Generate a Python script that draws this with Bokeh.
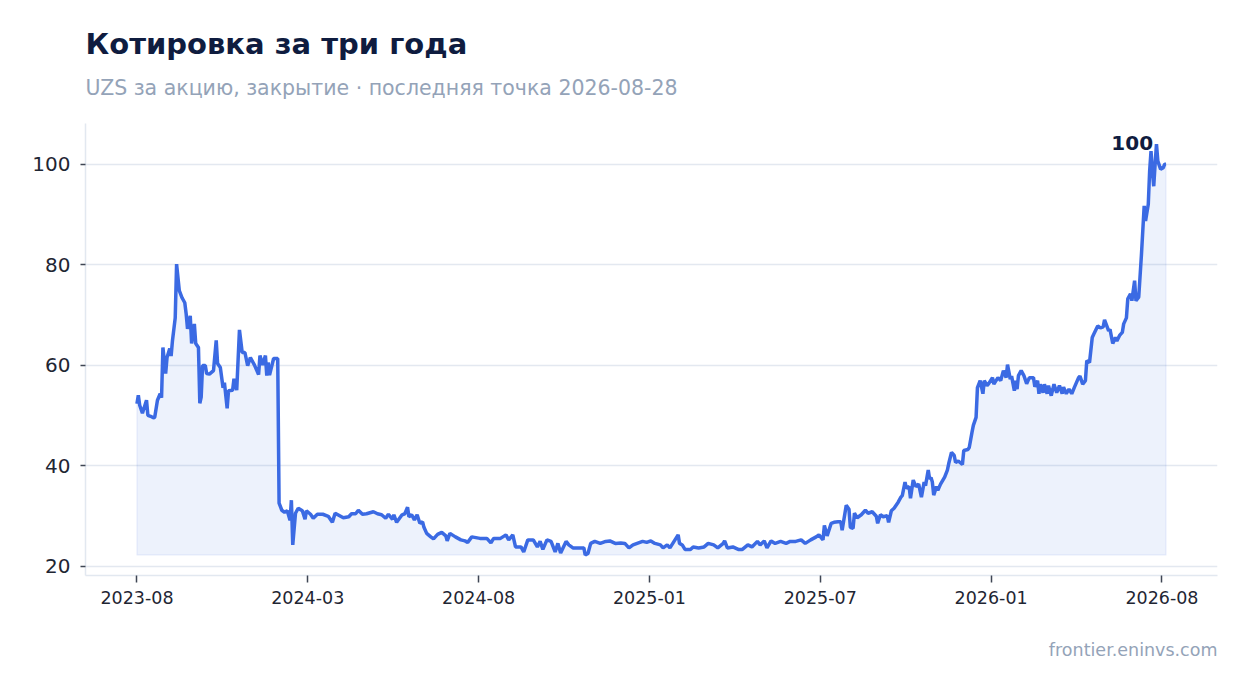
from bokeh.core.properties import value
from bokeh.embed import file_html
from bokeh.models import FixedTicker, Title
from bokeh.plotting import figure
from bokeh.resources import INLINE

# trading session number (0 = first session) and closing price, UZS
session = [
    0, 1, 2, 4, 7, 8, 10, 12, 13, 15,
    17, 18, 19, 21, 22, 24, 25, 26, 28, 29,
    31, 33, 35, 36, 37, 39, 40, 42, 43, 45,
    46, 47, 48, 50, 51, 53, 56, 58, 59, 61,
    63, 64, 66, 67, 70, 71, 73, 75, 77, 79,
    81, 83, 86, 89, 90, 92, 94, 95, 96, 97,
    100, 103, 104,
    106, 108, 110, 112, 113, 114, 116, 118, 121, 123,
    124, 127, 129, 132, 136, 140, 143, 145, 147, 151,
    155, 157, 160, 162, 165, 168, 173, 176, 179, 182,
    184, 187, 188, 190, 194, 196, 198, 199, 201, 203,
    205, 207, 209, 210, 212, 215, 217, 220, 223, 226,
    227, 229, 233, 237, 240, 242,
    245, 251, 256, 259, 261, 266, 270, 272, 275, 277,
    281, 283, 286, 290, 293, 295, 297, 300, 303, 306,
    308, 310, 314, 316, 319, 323, 327, 328, 330, 332,
    335, 339, 343, 346, 350, 354, 357, 360, 363, 366,
    370, 373, 376, 379, 383, 385, 388, 390, 393, 396,
    397, 399, 401, 405, 407, 411, 415, 418, 422, 425,
    429, 430, 432, 436, 440, 443, 447, 450, 454, 456,
    459, 461, 464, 467, 471, 475, 478, 482, 486, 489,
    493, 497, 499,
    502, 503, 505, 508, 510, 513, 515, 516, 519, 521,
    522, 524, 525, 527, 530, 533, 535, 538, 541, 542,
    544, 546, 549, 550, 552, 554, 557, 559, 560, 562,
    563, 565, 566, 568, 570, 572, 574, 576, 577, 579,
    580, 581, 582, 583, 585, 586, 588, 591, 593, 594,
    596, 598, 599, 601, 604, 605, 608, 609, 611, 612,
    614, 615, 617, 619, 620, 622, 623, 626, 627, 630,
    632, 634, 636, 637, 639, 640, 642, 643, 644, 645,
    647, 649, 651, 653, 656, 657, 659, 660, 661, 663,
    664, 666, 667, 669, 671, 673, 675, 677, 678, 680,
    682, 684, 686, 689, 690, 692, 694, 695, 697, 699,
    700, 703, 705, 707, 708, 711, 712, 714, 716, 717,
    719, 721, 722, 724, 725, 727, 728, 730, 731, 733,
    735, 737, 738, 740, 741, 742, 743, 744, 745, 746,
    747, 749, 751, 752, 753,
]
close = [
    52.3, 54, 52, 50.4, 53, 50, 49.8, 49.5, 49.6, 53,
    54.3, 53.5, 63.5, 58.3, 61.5, 63.3, 61.8, 64.9, 69.4, 80.1,
    74.8, 73.4, 72.4, 70.2, 67.2, 69.8, 64.3, 68.2, 64.3, 63.5,
    52.4, 53.6, 59.9, 59.9, 58.3, 58.2, 58.9, 64.9, 60.3, 59.5,
    55.5, 56.5, 51.4, 54.9, 55, 57.3, 55, 67, 62.5, 62.5,
    59.9, 61.5, 60, 58.1, 61.9, 60, 61.9, 57.9, 60.5, 58,
    61.3, 61.3, 32.5,
    31.1, 30.7, 31, 29.1, 33.1, 24.2, 30.5, 31.5, 31, 29.3,
    31, 30.3, 29.5, 30.3, 30.3, 29.9, 28.7, 30.5, 30.2, 29.6,
    29.8, 30.4, 30.4, 31.1, 30.3, 30.4, 30.8, 30.4, 30.2, 29.5,
    30.3, 29.3, 30.2, 28.7, 30.2, 30.4, 31.7, 29.8, 30.2, 29.2,
    30.2, 28.5, 28.8, 27.7, 26.5, 25.8, 25.4, 26.3, 26.7, 26,
    25, 26.5, 25.8, 25.2, 25, 24.7,
    25.8, 25.5, 25.5, 24.6, 25.5, 25.5, 26.2, 25.2, 26.2, 23.8,
    23.8, 22.8, 25.2, 25.2, 23.8, 24.9, 23.3, 25.2, 24.9, 22.8,
    24.5, 22.6, 24.9, 24.2, 23.6, 23.6, 23.6, 22.2, 22.5, 24.5,
    24.9, 24.5, 24.9, 25, 24.5, 24.6, 24.5, 23.6, 24.2, 24.5,
    24.9, 24.7, 25, 24.5, 24.2, 23.6, 24.2, 23.6, 24.9, 26.2,
    24.5, 24.2, 23.3, 23.3, 23.8, 23.6, 23.8, 24.5, 24.2, 23.6,
    24.5, 25, 23.6, 23.8, 23.3, 23.3, 24.2, 23.8, 24.9, 24.2,
    25, 23.6, 25, 24.5, 24.9, 24.5, 24.9, 24.9, 25.2, 24.5,
    25.2, 25.8, 26.2,
    25.2, 28.1, 26, 28.5, 28.7, 28.8, 28.8, 27.1, 32.1, 31.3,
    27.7, 27.5, 30.5, 29.6, 30.2, 31.1, 30.5, 30.8, 29.9, 28.5,
    30.2, 29.8, 30, 28.7, 31, 31.5, 32.7, 33.7, 34, 36.7,
    35.5, 35.8, 33.5, 37.1, 35.8, 36.3, 33.7, 36.7, 36, 39.1,
    37.3, 37.6, 36.7, 34.1, 35.8, 35.1, 36.3, 37.7, 39.1, 40.4,
    42.6, 42, 40.6, 40.9, 40.2, 43, 43.2, 43.6, 46.6, 48,
    49.6, 55.5, 56.9, 54.3, 56.9, 55.9, 56.2, 57.5, 56.2, 57.5,
    56.9, 58.9, 57.5, 60.1, 57.2, 57.8, 54.9, 56.9, 55.2, 57.9,
    58.9, 57.9, 56.3, 57.5, 57.5, 55.7, 56.9, 54.3, 56.2, 54.5,
    56.2, 54.3, 55.9, 53.9, 56.2, 54.5, 55.9, 54.3, 55.6, 54.3,
    55.2, 54.3, 55.6, 57.5, 57.8, 56.2, 56.9, 60.9, 60.5, 65.5,
    66.1, 67.8, 67.4, 67.6, 69, 66.8, 67.1, 64.3, 65.5, 64.8,
    65.9, 66.5, 68.2, 69.4, 73.2, 74.2, 72.8, 76.8, 72.8, 73.5,
    82, 91.7, 88.7, 92, 98.6, 102.6, 98.6, 95.6, 100, 104,
    100.6, 99, 99.3, 100, 100,
]

tick_sessions = [0, 125, 250, 375, 500, 625, 750]
tick_labels = ["2023-08", "2024-03", "2024-08", "2025-01", "2025-07", "2026-01", "2026-08"]
y_ticks = [20, 40, 60, 80, 100]

title_text = "Котировка за три года"
subtitle_text = "UZS за акцию, закрытие · последняя точка 2026-08-28"
source_text = "frontier.eninvs.com"

BLUE = "#3b6ae3"
NAVY = "#0f1c3f"
MUTED = "#94a3b8"
FONT = "DejaVu Sans"

p = figure(width=1247, height=693, output_backend="svg", toolbar_location=None,
           min_border_left=85, min_border_right=30, min_border_top=123, min_border_bottom=118)
p.background_fill_color = "white"
p.border_fill_color = "white"
p.outline_line_color = None

# shaded area under the line, down to the lowest close
base = min(close)
p.patch(session + [session[-1], session[0]], close + [base, base],
        fill_color=BLUE, fill_alpha=0.09, line_color=BLUE, line_alpha=0.08, line_width=1.5)
p.line(session, close, line_color=BLUE, line_width=3.5)

# last value label
p.text(x=[session[-1]], y=[close[-1]], text=[f"{close[-1]:.0f}"],
       text_font=value(FONT), text_font_style="bold", text_font_size="20px",
       text_color=NAVY, text_align="right", text_baseline="bottom",
       x_offset=-13, y_offset=-14)

p.xaxis.ticker = FixedTicker(ticks=tick_sessions)
p.xaxis.major_label_overrides = dict(zip(tick_sessions, tick_labels))
p.yaxis.ticker = FixedTicker(ticks=y_ticks)

p.axis.axis_line_color = "#e2e8f0"
p.axis.axis_line_width = 1.5
p.axis.major_tick_line_color = "#3f4654"
p.axis.major_tick_line_width = 1.5
p.axis.major_tick_in = 0
p.axis.minor_tick_line_color = None
p.axis.major_label_text_font = FONT
p.axis.major_label_text_color = "#1f2633"
p.xaxis.major_tick_out = 7
p.xaxis.major_label_text_font_size = "17.5px"
p.xaxis.major_label_standoff = 8
p.yaxis.major_tick_out = 5
p.yaxis.major_label_text_font_size = "20px"
p.yaxis.major_label_standoff = 10

p.xgrid.visible = False
p.ygrid.grid_line_color = "#e3e8f0"
p.ygrid.grid_line_width = 1.5

# header: the title's negative standoff pulls it down onto the subtitle's panel
p.add_layout(Title(text=subtitle_text, align="left", text_font=FONT, text_font_size="20.5px",
                   text_font_style="normal", text_color=MUTED, standoff=47), "above")
p.add_layout(Title(text=title_text, align="left", text_font=FONT, text_font_size="29px",
                   text_font_style="bold", text_color=NAVY, standoff=-21), "above")
p.add_layout(Title(text=source_text, align="right", text_font=FONT, text_font_size="17.5px",
                   text_font_style="normal", text_color=MUTED, standoff=62), "below")

open("out.html", "w").write(file_html(p, INLINE))
